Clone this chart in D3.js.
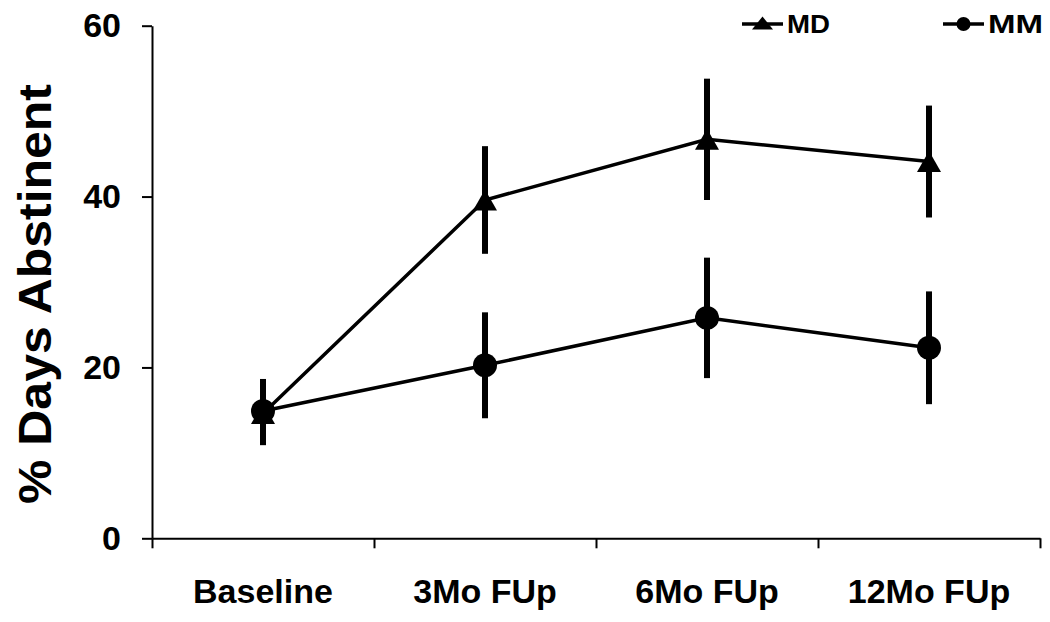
<!DOCTYPE html>
<html>
<head>
<meta charset="utf-8">
<script src="https://cdn.jsdelivr.net/npm/d3@7"></script>
<style>
  html, body { margin: 0; padding: 0; background: #fff; }
  text { font-family: "Liberation Sans", Arial, Helvetica, sans-serif; font-weight: bold; fill: #000; }
</style>
</head>
<body>
<svg id="chart"></svg>
<script>
const categories = ["Baseline", "3Mo FUp", "6Mo FUp", "12Mo FUp"];
const mdValues = [14.6, 39.6, 46.7, 44.1];
const mdErrors = [3.7, 6.3, 7.1, 6.55];
const mmValues = [14.9, 20.25, 25.8, 22.3];
const mmErrors = [3.75, 6.2, 7.05, 6.6];
const yTicks = [0, 20, 40, 60];

const dimensions = {
  width: 1050,
  height: 622,
  margin: { top: 25.7, bottom: 83.7, left: 152, right: 10 }
};

const svg = d3.select("#chart")
  .attr("width", dimensions.width)
  .attr("height", dimensions.height);

const xScale = d3.scaleBand()
  .domain(categories)
  .range([dimensions.margin.left, dimensions.width - dimensions.margin.right]);

const yScale = d3.scaleLinear()
  .domain([0, 60])
  .range([dimensions.height - dimensions.margin.bottom, dimensions.margin.top]);

const cx = c => xScale(c) + xScale.bandwidth() / 2;

// axes
const boundaries = categories.map(c => xScale(c)).concat([xScale.range()[1]]);
const xAxis = d3.axisBottom(d3.scaleLinear().domain(xScale.range()).range(xScale.range()))
  .tickValues(boundaries)
  .tickSize(10)
  .tickSizeOuter(0)
  .tickFormat("");

svg.append("g")
  .attr("transform", `translate(0, ${yScale(0)})`)
  .call(xAxis)
  .call(g => g.selectAll("path, line").attr("stroke", "#000").attr("stroke-width", 2));

const yAxis = d3.axisLeft(yScale)
  .tickValues(yTicks)
  .tickSize(10)
  .tickSizeOuter(0)
  .tickPadding(21);

svg.append("g")
  .attr("transform", `translate(${dimensions.margin.left}, 0)`)
  .call(yAxis)
  .call(g => g.selectAll("path, line").attr("stroke", "#000").attr("stroke-width", 2))
  .call(g => g.selectAll("text")
    .attr("font-size", 34)
    .attr("font-family", "'Liberation Sans', Arial, sans-serif")
    .attr("font-weight", "bold")
    .attr("fill", "#000"));

// category labels
svg.append("g")
  .selectAll("text")
  .data(categories)
  .join("text")
  .attr("x", d => cx(d))
  .attr("y", yScale(0) + 64.4)
  .attr("text-anchor", "middle")
  .attr("font-size", 34)
  .text(d => d);

// y axis title
svg.append("text")
  .attr("transform", `translate(51, 294) rotate(-90)`)
  .attr("text-anchor", "middle")
  .attr("font-size", 46)
  .attr("textLength", 420)
  .attr("lengthAdjust", "spacingAndGlyphs")
  .text("% Days Abstinent");

function triPath(w, h) {
  return `M0,${-h / 2}L${w / 2},${h / 2}L${-w / 2},${h / 2}Z`;
}

function drawSeries(values, errors, marker) {
  const points = categories.map((c, i) => ({ x: cx(c), v: values[i], e: errors[i] }));
  const g = svg.append("g");

  g.append("path")
    .datum(points)
    .attr("d", d3.line().x(d => d.x).y(d => yScale(d.v)))
    .attr("fill", "none")
    .attr("stroke", "#000")
    .attr("stroke-width", 3.5);

  g.selectAll("line.err")
    .data(points)
    .join("line")
    .attr("class", "err")
    .attr("x1", d => d.x)
    .attr("x2", d => d.x)
    .attr("y1", d => yScale(d.v + d.e))
    .attr("y2", d => yScale(d.v - d.e))
    .attr("stroke", "#000")
    .attr("stroke-width", 6);

  if (marker === "triangle") {
    g.selectAll("path.mk")
      .data(points)
      .join("path")
      .attr("class", "mk")
      .attr("d", triPath(24, 21))
      .attr("transform", d => `translate(${d.x}, ${yScale(d.v)})`)
      .attr("fill", "#000");
  } else {
    g.selectAll("circle.mk")
      .data(points)
      .join("circle")
      .attr("class", "mk")
      .attr("cx", d => d.x)
      .attr("cy", d => yScale(d.v))
      .attr("r", 12)
      .attr("fill", "#000");
  }
}

drawSeries(mdValues, mdErrors, "triangle");
drawSeries(mmValues, mmErrors, "circle");

// legend
const legendItems = [
  { name: "MD", marker: "triangle", x0: 742 },
  { name: "MM", marker: "circle", x0: 943 }
];
const legend = svg.append("g").selectAll("g")
  .data(legendItems)
  .join("g")
  .attr("transform", d => `translate(${d.x0}, 24)`);

legend.append("line")
  .attr("x1", 0).attr("x2", 41)
  .attr("y1", 0).attr("y2", 0)
  .attr("stroke", "#000")
  .attr("stroke-width", 3.5);

legend.filter(d => d.marker === "triangle")
  .append("path")
  .attr("d", triPath(21, 13))
  .attr("transform", "translate(20.5, -1)")
  .attr("fill", "#000");

legend.filter(d => d.marker === "circle")
  .append("circle")
  .attr("cx", 20.5).attr("cy", 0).attr("r", 7)
  .attr("fill", "#000");

legend.append("text")
  .attr("x", 45)
  .attr("y", 9)
  .attr("font-size", 25)
  .attr("textLength", d => d.name === "MD" ? 43 : 55)
  .attr("lengthAdjust", "spacingAndGlyphs")
  .text(d => d.name);
</script>
</body>
</html>
